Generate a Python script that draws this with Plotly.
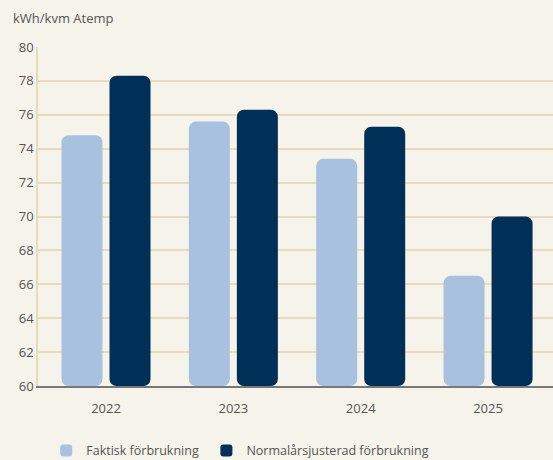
import plotly.graph_objects as go

years = ["2022", "2023", "2024", "2025"]
faktisk = [74.8, 75.6, 73.4, 66.5]
normal = [78.3, 76.3, 75.3, 70.0]
y_ticks = [60, 62, 64, 66, 68, 70, 72, 74, 76, 78, 80]

FONT = "Open Sans"
fig = go.Figure()
fig.add_trace(go.Bar(x=years, y=[v - 60 for v in faktisk], base=60, name="Faktisk förbrukning",
                     marker=dict(color="#A7C1DF", cornerradius=7, line=dict(width=0)),
                     hoverinfo="skip", legend="legend"))
fig.add_trace(go.Bar(x=years, y=[v - 60 for v in normal], base=60, name="Normalårsjusterad förbrukning",
                     marker=dict(color="#002F57", cornerradius=7, line=dict(width=0)),
                     hoverinfo="skip", legend="legend2"))

leg_common = dict(orientation="h", xanchor="left", y=-0.147, yanchor="top",
                  font=dict(size=12.5, color="#555555"), itemwidth=30,
                  bgcolor="rgba(0,0,0,0)")
fig.update_layout(
    width=553, height=460,
    paper_bgcolor="#F6F3EB", plot_bgcolor="#F6F3EB",
    margin=dict(l=38, r=0, t=47, b=74, pad=0, autoexpand=False),
    barmode="group", bargap=0.246, bargroupgap=0.146,
    font=dict(family=FONT, size=13, color="#555555"),
    showlegend=True,
    legend=dict(x=0.016, **leg_common),
    legend2=dict(x=0.327, **leg_common),
    annotations=[dict(text="kWh/kvm Atemp", xref="paper", yref="paper", x=-0.0515, y=1.087,
                      xanchor="left", yanchor="middle", showarrow=False,
                      font=dict(size=13, color="#555555"))],
)
fig.update_yaxes(range=[60, 80], tickvals=y_ticks, showgrid=True, gridcolor="#E8DABC", gridwidth=1.5,
                 zeroline=False, showline=True, linecolor="#E8DABC", linewidth=1.5,
                 ticks="", tickfont=dict(size=13, color="#555555"), fixedrange=True, automargin=False)
fig.update_xaxes(range=[-0.534, 3.51], showgrid=False, showline=True, linecolor="#777777", linewidth=2,
                 ticks="outside", ticklen=9, tickcolor="rgba(0,0,0,0)",
                 tickfont=dict(size=13, color="#555555"), fixedrange=True, automargin=False)

fig.write_html("out.html", config={"displayModeBar": False},
               post_script="document.body.style.margin='0';document.body.style.overflow='hidden';")
